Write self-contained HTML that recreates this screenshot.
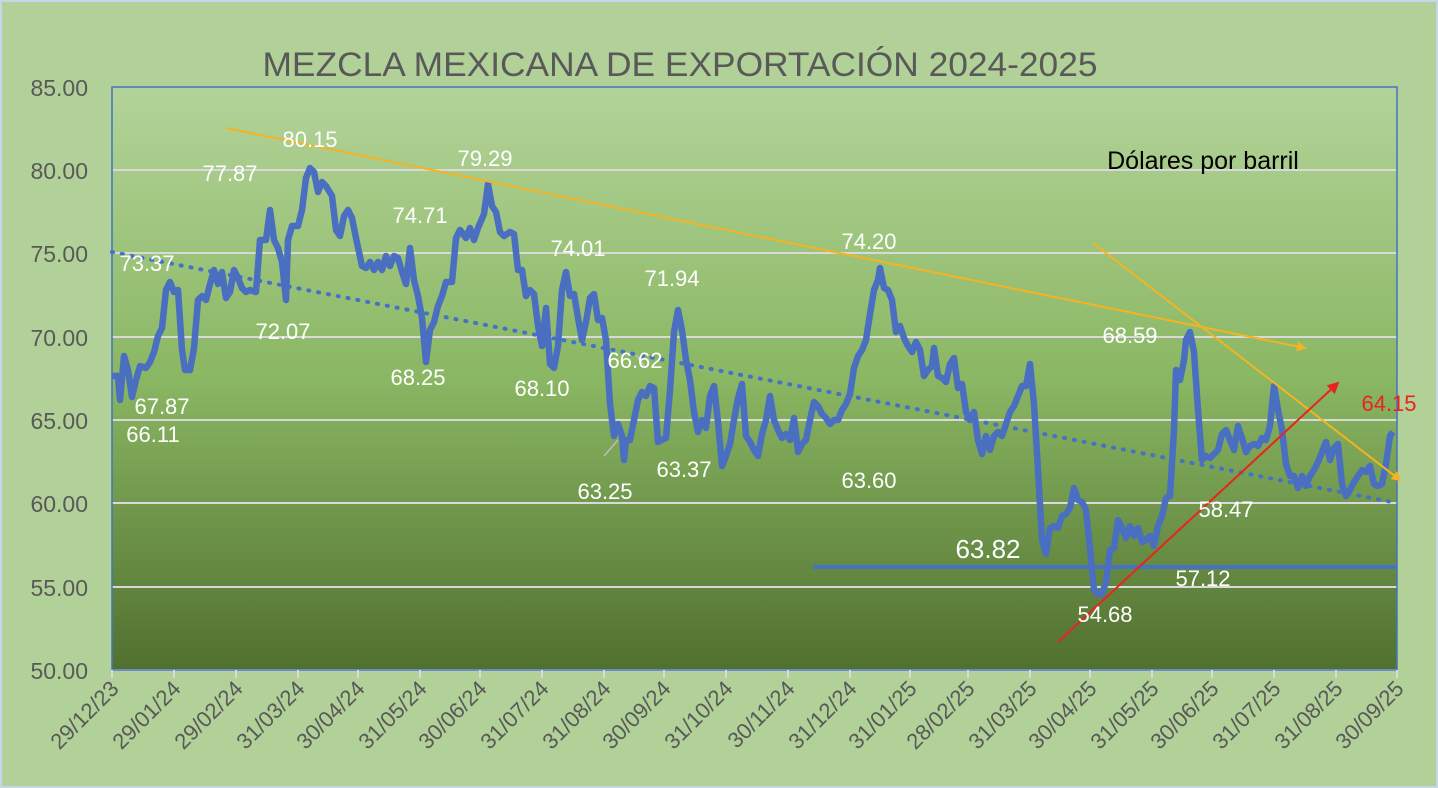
<!DOCTYPE html><html><head><meta charset="utf-8"><style>body{margin:0;background:#b1d198}svg{display:block}text{font-family:"Liberation Sans",sans-serif}</style></head><body>
<svg width="1438" height="788" viewBox="0 0 1438 788">
<defs><linearGradient id="g" x1="0" y1="0" x2="0" y2="1"><stop offset="0" stop-color="#b3d399"/><stop offset="0.5" stop-color="#8ab763"/><stop offset="1" stop-color="#51702f"/></linearGradient>
<marker id="ay" markerWidth="10" markerHeight="10" refX="8" refY="5" orient="auto" markerUnits="userSpaceOnUse"><path d="M0,0 L10,5 L0,10Z" fill="#f5b323"/></marker>
<marker id="ar" markerWidth="12" markerHeight="12" refX="10" refY="6" orient="auto" markerUnits="userSpaceOnUse"><path d="M0,0 L12,6 L0,12Z" fill="#e8241c"/></marker></defs>
<rect width="1438" height="788" fill="#b1d198"/>
<rect x="1" y="1" width="1436" height="786" fill="none" stroke="#c4d7e8" stroke-width="2"/>
<rect x="112" y="87" width="1285" height="583" fill="url(#g)"/>
<g stroke="#d9d9d9" stroke-width="2"><line x1="112" y1="170" x2="1397" y2="170"/><line x1="112" y1="253" x2="1397" y2="253"/><line x1="112" y1="337" x2="1397" y2="337"/><line x1="112" y1="420" x2="1397" y2="420"/><line x1="112" y1="503" x2="1397" y2="503"/><line x1="112" y1="587" x2="1397" y2="587"/><line x1="112" y1="670" x2="1397" y2="670"/></g>
<rect x="112" y="87" width="1285" height="583" fill="none" stroke="#4472c4" stroke-width="1.5"/>
<g stroke="#d9d9d9" stroke-width="2">
<line x1="112" y1="670" x2="112" y2="678"/><line x1="174" y1="670" x2="174" y2="678"/><line x1="236" y1="670" x2="236" y2="678"/><line x1="298" y1="670" x2="298" y2="678"/><line x1="358" y1="670" x2="358" y2="678"/><line x1="420" y1="670" x2="420" y2="678"/><line x1="480" y1="670" x2="480" y2="678"/><line x1="542" y1="670" x2="542" y2="678"/><line x1="604" y1="670" x2="604" y2="678"/><line x1="664" y1="670" x2="664" y2="678"/><line x1="726" y1="670" x2="726" y2="678"/><line x1="788" y1="670" x2="788" y2="678"/><line x1="850" y1="670" x2="850" y2="678"/><line x1="910" y1="670" x2="910" y2="678"/><line x1="968" y1="670" x2="968" y2="678"/><line x1="1030" y1="670" x2="1030" y2="678"/><line x1="1090" y1="670" x2="1090" y2="678"/><line x1="1152" y1="670" x2="1152" y2="678"/><line x1="1212" y1="670" x2="1212" y2="678"/><line x1="1274" y1="670" x2="1274" y2="678"/><line x1="1336" y1="670" x2="1336" y2="678"/><line x1="1397" y1="670" x2="1397" y2="678"/></g>
<g fill="#595959" font-size="23" text-anchor="end">
<text x="88" y="96">85.00</text><text x="88" y="179">80.00</text><text x="88" y="262">75.00</text><text x="88" y="346">70.00</text><text x="88" y="429">65.00</text><text x="88" y="512">60.00</text><text x="88" y="596">55.00</text><text x="88" y="679">50.00</text></g>
<g fill="#595959" font-size="22" text-anchor="end">
<text transform="translate(120,690) rotate(-45)">29/12/23</text><text transform="translate(182,690) rotate(-45)">29/01/24</text><text transform="translate(244,690) rotate(-45)">29/02/24</text><text transform="translate(306,690) rotate(-45)">31/03/24</text><text transform="translate(366,690) rotate(-45)">30/04/24</text><text transform="translate(428,690) rotate(-45)">31/05/24</text><text transform="translate(488,690) rotate(-45)">30/06/24</text><text transform="translate(550,690) rotate(-45)">31/07/24</text><text transform="translate(612,690) rotate(-45)">31/08/24</text><text transform="translate(672,690) rotate(-45)">30/09/24</text><text transform="translate(734,690) rotate(-45)">31/10/24</text><text transform="translate(796,690) rotate(-45)">30/11/24</text><text transform="translate(858,690) rotate(-45)">31/12/24</text><text transform="translate(918,690) rotate(-45)">31/01/25</text><text transform="translate(976,690) rotate(-45)">28/02/25</text><text transform="translate(1038,690) rotate(-45)">31/03/25</text><text transform="translate(1098,690) rotate(-45)">30/04/25</text><text transform="translate(1160,690) rotate(-45)">31/05/25</text><text transform="translate(1220,690) rotate(-45)">30/06/25</text><text transform="translate(1282,690) rotate(-45)">31/07/25</text><text transform="translate(1344,690) rotate(-45)">31/08/25</text><text transform="translate(1405,690) rotate(-45)">30/09/25</text></g>
<text x="680" y="76" font-size="34" fill="#595959" text-anchor="middle" textLength="835" lengthAdjust="spacingAndGlyphs">MEZCLA MEXICANA DE EXPORTACIÓN 2024-2025</text>
<text x="1203" y="169" font-size="25" fill="#000" text-anchor="middle">Dólares por barril</text>
<line x1="112" y1="252" x2="1397" y2="503" stroke="#4472c4" stroke-width="4" stroke-dasharray="1 9" stroke-linecap="round"/>
<line x1="813" y1="567" x2="1397" y2="567" stroke="#4472c4" stroke-width="4"/>
<polyline fill="none" stroke="#4a6fc0" stroke-width="6.5" stroke-linejoin="round" points="112,376 118,376 120,400 124,356 128,370 132,397 136,380 140,366 146,368 150,362 154,352 158,336 162,328 166,290 170,282 174,292 178,290 182,350 185,370 190,370 194,348 198,300 202,296 206,300 210,284 214,270 218,284 222,272 226,298 230,292 234,270 238,278 242,288 246,292 250,290 256,292 260,240 266,240 270,210 274,240 278,248 282,262 286,300 288,240 292,226 298,226 302,210 306,178 310,168 314,172 318,192 322,182 326,186 332,196 336,230 340,236 344,216 348,210 352,218 356,238 362,266 366,268 370,262 374,270 378,262 382,270 386,256 390,266 394,256 398,258 402,272 406,284 410,248 414,280 418,296 422,318 426,362 430,330 434,322 438,306 442,296 446,282 452,282 456,238 460,230 466,238 470,228 474,240 478,228 484,214 488,184 492,206 496,212 500,232 504,236 510,232 514,234 518,270 522,270 526,296 530,290 534,294 538,326 542,346 546,308 550,364 554,368 558,346 562,290 566,272 570,296 574,294 578,318 582,340 586,322 590,298 594,294 598,320 602,318 606,340 610,404 614,436 618,424 622,436 624,460 626,440 630,440 634,420 638,400 642,392 646,396 650,386 654,388 658,442 662,440 666,438 670,390 674,332 678,310 682,330 686,360 690,380 694,412 698,432 702,420 706,428 710,396 714,386 718,422 722,466 726,456 730,444 734,420 738,398 742,384 746,436 750,442 754,450 758,456 762,434 766,420 770,396 774,420 778,430 782,438 786,434 790,440 794,418 798,452 802,444 806,440 810,420 814,402 818,406 822,414 826,418 830,424 834,420 838,420 842,410 846,404 850,394 854,368 858,356 862,350 866,340 870,314 874,290 878,280 880,268 884,288 888,290 892,300 896,332 900,326 904,338 908,346 912,352 916,342 920,350 924,376 928,370 932,366 934,348 938,376 942,378 946,382 950,364 954,358 958,388 962,384 966,412 970,420 974,412 978,440 982,454 986,436 990,450 994,436 998,432 1002,436 1006,424 1010,412 1014,406 1018,396 1022,386 1026,386 1030,364 1034,404 1038,470 1042,540 1046,554 1050,528 1054,526 1058,528 1062,516 1066,514 1070,508 1074,488 1078,500 1082,502 1086,510 1090,548 1094,590 1098,594 1102,594 1106,582 1110,550 1114,548 1118,520 1122,528 1126,538 1130,526 1134,536 1138,528 1142,542 1146,540 1150,536 1154,546 1158,526 1162,516 1166,498 1170,496 1174,430 1176,370 1180,380 1184,360 1186,340 1190,332 1194,352 1198,410 1202,460 1206,456 1210,458 1214,454 1218,450 1222,434 1226,430 1230,440 1234,450 1238,426 1242,438 1246,452 1250,446 1254,444 1258,446 1262,438 1266,440 1270,426 1274,386 1278,410 1282,430 1286,464 1290,476 1294,476 1298,488 1302,476 1306,486 1310,476 1314,470 1318,462 1322,452 1326,442 1330,460 1334,448 1338,444 1342,484 1346,496 1350,490 1354,482 1358,476 1362,470 1366,472 1370,466 1374,484 1378,486 1382,484 1386,464 1390,436 1393,432"/>
<line x1="226" y1="128" x2="1305" y2="348" stroke="#f5b323" stroke-width="2" marker-end="url(#ay)"/>
<line x1="1093" y1="243" x2="1400" y2="480" stroke="#f5b323" stroke-width="2" marker-end="url(#ay)"/>
<line x1="1058" y1="642" x2="1338" y2="383" stroke="#e8241c" stroke-width="2" marker-end="url(#ar)"/>
<line x1="604" y1="456" x2="618" y2="440" stroke="#bfbfbf" stroke-width="1.5"/>
<line x1="636" y1="355" x2="646" y2="368" stroke="#bfbfbf" stroke-width="1.5"/>
<g fill="#fff" font-size="22" text-anchor="middle">
<text x="310" y="147">80.15</text><text x="230" y="181">77.87</text><text x="147" y="271">73.37</text><text x="283" y="339">72.07</text><text x="420" y="223">74.71</text><text x="418" y="385">68.25</text><text x="162" y="414">67.87</text><text x="153" y="442">66.11</text><text x="485" y="166">79.29</text><text x="578" y="256">74.01</text><text x="542" y="396">68.10</text><text x="672" y="286">71.94</text><text x="635" y="368">66.62</text><text x="605" y="499">63.25</text><text x="684" y="477">63.37</text><text x="869" y="488">63.60</text><text x="869" y="249">74.20</text><text x="1130" y="343">68.59</text><text x="1226" y="517">58.47</text><text x="1203" y="586">57.12</text><text x="1105" y="622">54.68</text><text x="988" y="558" font-size="26">63.82</text></g>
<text x="1389" y="411" font-size="22" fill="#e8241c" text-anchor="middle">64.15</text>
</svg></body></html>
